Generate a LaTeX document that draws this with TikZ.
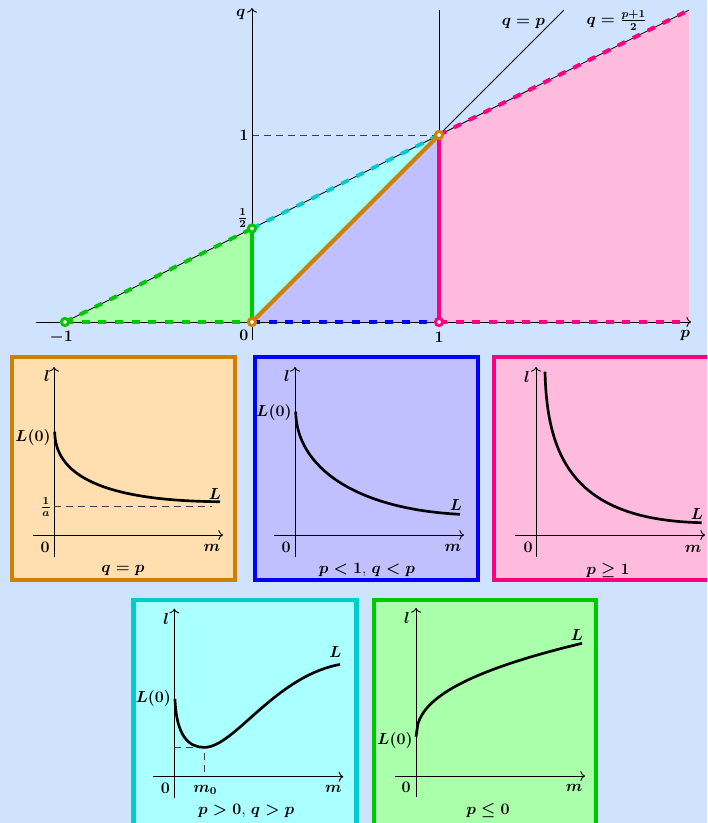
\documentclass[tikz,border=0pt]{standalone}
\usetikzlibrary{arrows.meta}
\definecolor{bgblue}{RGB}{207,227,255}
\definecolor{orng}{RGB}{208,128,0}
\definecolor{pinkln}{RGB}{255,0,128}
\definecolor{grnln}{RGB}{0,200,0}
\definecolor{cyanln}{RGB}{0,204,204}
\definecolor{peach}{RGB}{255,223,176}
\definecolor{lavender}{RGB}{192,192,255}
\definecolor{pinkfill}{RGB}{255,187,221}
\definecolor{cyanfill}{RGB}{170,255,255}
\definecolor{grnfill}{RGB}{170,255,170}
\begin{document}
\begin{tikzpicture}[x=0.75pt, y=-0.75pt, >={To[length=3.5pt, width=7.5pt]},
		font=\fontsize{12}{14}\selectfont\boldmath,
		every node/.style={inner sep=0pt},
		border/.style={line width=3.5pt},
		axis/.style={->, line width=0.7pt},
		bold line/.style={line width=3pt},
		dash line/.style={line width=3pt, dash pattern=on 6pt off 6.5pt},
		hole/.style={line width=2.2pt, fill=white},
		curve/.style={line width=2pt},
		guide/.style={black!75, dash pattern=on 5pt off 4pt}]
	
	% --- NỀN ---
	\fill[bgblue] (0,0) rectangle (707,823);
	\useasboundingbox (0,0) rectangle (707,823);
	\clip (0,0) rectangle (707,823);
	
	% --- MẶT PHẲNG (p,q) ---
	\begin{scope}[shift={(252,322)}, x=140.25pt, y=140.25pt]
		% Tô các miền
		\fill[grnfill] (-1,0) -- (0,0) -- (0,0.5) -- cycle;
		\fill[cyanfill] (0,0) -- (0,0.5) -- (1,1) -- cycle;
		\fill[lavender] (0,0) -- (1,1) -- (1,0) -- cycle;
		\fill[pinkfill] (1,0) -- (1,1) -- (2.337,1.668) -- (2.337,0) -- cycle;
		
		% Các đường mảnh
		\draw[line width=0.6pt] (1,0) -- (1,1.668);
		\draw[line width=0.6pt] (0,0) -- (1.668,1.668);
		\draw[line width=0.6pt] (-1,0) -- (2.337,1.668);
		\draw[guide] (0,1) -- (1,1);
		
		% Trục toạ độ
		\draw[axis] (-1.155,0) -- (2.348,0);
		\draw[axis] (0,-0.096) -- (0,1.679);
		
		% Biên các miền
		\draw[dash line, grnln] (-1,0) -- (0,0);
		\draw[dash line, grnln] (-1,0) -- (0,0.5);
		\draw[bold line, grnln] (0,0) -- (0,0.5);
		\draw[dash line, cyanln] (0,0.5) -- (1,1);
		\draw[bold line, orng] (0,0) -- (1,1);
		\draw[dash line, blue] (0,0) -- (1,0);
		\draw[bold line, pinkln] (1,0) -- (1,1);
		\draw[dash line, pinkln] (1,0) -- (2.3,0);
		\draw[dash line, pinkln] (1,1) -- (2.337,1.668);
		
		% Các điểm rỗng
		\draw[hole, draw=grnln] (-1,0) circle (2.7pt);
		\draw[hole, draw=grnln] (0,0.5) circle (2.7pt);
		\draw[hole, draw=orng] (0,0) circle (2.7pt);
		\draw[hole, draw=orng] (1,1) circle (2.7pt);
		\draw[hole, draw=pinkln] (1,0) circle (2.7pt);
		
		% Nhãn
		\node (qlab) at (-0.06,1.642) {$q$};
		\node (plab) at (2.316,-0.07) {$p$};
		\node (pm1) at (-1.02,-0.08) {$-1$};
		\node (p0) at (-0.043,-0.07) {$0$};
		\node (p1) at (1,-0.08) {$1$};
		\node (q1) at (-0.043,1) {$1$};
		\node (qhalf) at (-0.05,0.556) {$\frac{1}{2}$};
		\node (diag) at (1.451,1.597) {$q=p$};
		\node (mid) at (1.95,1.611) {$q=\frac{p+1}{2}$};
	\end{scope}
	
	% --- HÌNH 1: q = p ---
	\begin{scope}[shift={(54,535)}]
		\draw[border, draw=orng, fill=peach] (-42,-178) rectangle (181,45);
		\draw[axis] (0,22) -- (0,-168);
		\draw[axis] (-21,0) -- (169,0);
		\draw[guide] (0,-29) -- (158,-29);
		\draw[curve] (0.7,-103.3) .. controls (1,-55) and (60,-34) .. (166,-33.3);
		\node (l1) at (-7,-159) {$l$};
		\node (a1) at (-21,-98) {$L(0)$};
		\node (b1) at (-8,-28) {$\frac{1}{a}$};
		\node (c1) at (161,-41) {$L$};
		\node (o1) at (-9,12) {$0$};
		\node (m1) at (158,13) {$m$};
		\node (t1) at (69,35) {$q=p$};
	\end{scope}
	
	% --- HÌNH 2: p < 1, q < p ---
	\begin{scope}[shift={(295,535)}]
		\draw[border, draw=blue, fill=lavender] (-40,-178) rectangle (183,45);
		\draw[axis] (0,22) -- (0,-168);
		\draw[axis] (-21,0) -- (169,0);
		\draw[curve] (0.7,-123.3) .. controls (1.5,-68) and (60,-26) .. (165,-20.7);
		\node (l2) at (-8,-159) {$l$};
		\node (a2) at (-21,-123) {$L(0)$};
		\node (c2) at (161,-30) {$L$};
		\node (o2) at (-9,12) {$0$};
		\node (m2) at (158,13) {$m$};
		\node (t2) at (72,35) {$p<1$, $q<p$};
	\end{scope}
	
	% --- HÌNH 3: p >= 1 ---
	\begin{scope}[shift={(536,535)}]
		\fill[pinkfill] (-42,-178) rectangle (200,45);
		\draw[border, draw=pinkln] (200,-178) -- (-42,-178) -- (-42,45) -- (200,45);
		\draw[axis] (0,22) -- (0,-168);
		\draw[axis] (-21,0) -- (169,0);
		\draw[curve] (9,-163.3) .. controls (11,-75) and (40,-15) .. (165.7,-12.3);
		\node (l3) at (-9,-158) {$l$};
		\node (c3) at (161,-21) {$L$};
		\node (o3) at (-8,12) {$0$};
		\node (m3) at (157,14) {$m$};
		\node (t3) at (72,35) {$p\geq 1$};
	\end{scope}
	
	% --- HÌNH 4: p > 0, q > p ---
	\begin{scope}[shift={(174.3,776.7)}]
		\draw[border, draw=cyanln, fill=cyanfill] (-41,-176.7) rectangle (182,50);
		\draw[axis] (0,21) -- (0,-168);
		\draw[axis] (-21,0) -- (169,0);
		\draw[guide] (0,-29.3) -- (30,-29.3) -- (30,0);
		\draw[curve] (0.7,-77.7) .. controls (2,-40) and (15,-29.3) .. (30,-29.3)
		.. controls (60,-29.3) and (100,-100) .. (165.7,-112.3);
		\node (l4) at (-8,-158) {$l$};
		\node (a4) at (-21,-78) {$L(0)$};
		\node (c4) at (161,-125) {$L$};
		\node (o4) at (-9,12) {$0$};
		\node (n4) at (31,13) {$m_0$};
		\node (m4) at (159,12) {$m$};
		\node (t4) at (72,34) {$p>0$, $q>p$};
	\end{scope}
	
	% --- HÌNH 5: p <= 0 ---
	\begin{scope}[shift={(416,776)}]
		\draw[border, draw=grnln, fill=grnfill] (-42,-176) rectangle (180,50);
		\draw[axis] (0,21) -- (0,-168);
		\draw[axis] (-21,0) -- (169,0);
		\draw[curve] plot[domain=0.01:166, samples=90] (\x, {-37.7-11.1*(\x)^0.42});
		\node (l5) at (-9,-158) {$l$};
		\node (a5) at (-21,-36) {$L(0)$};
		\node (c5) at (161,-141) {$L$};
		\node (o5) at (-10,11) {$0$};
		\node (m5) at (158,12) {$m$};
		\node (t5) at (72,34) {$p\leq 0$};
	\end{scope}
\end{tikzpicture}
\end{document}
